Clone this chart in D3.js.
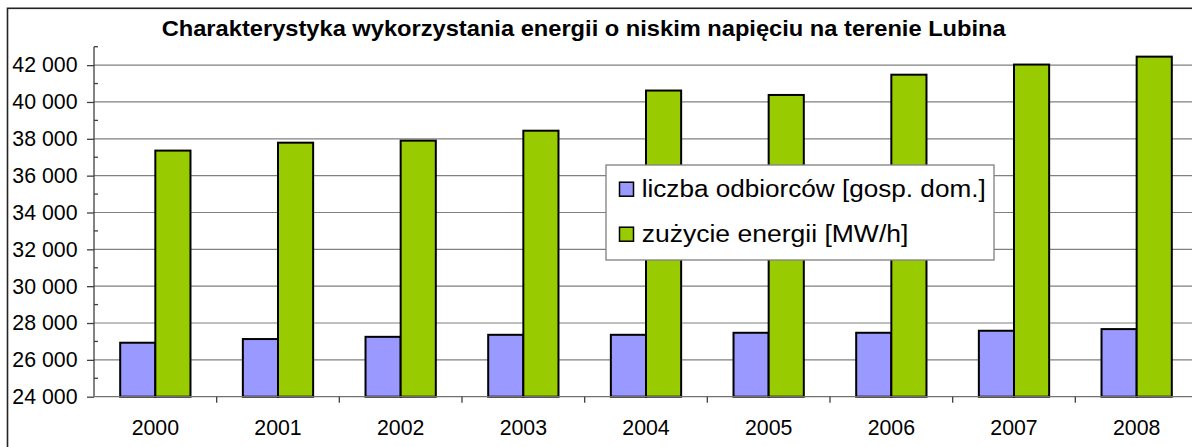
<!DOCTYPE html>
<html>
<head>
<meta charset="utf-8">
<script src="https://cdn.jsdelivr.net/npm/d3@7"></script>
<style>
  html, body { margin: 0; padding: 0; background: #fff; }
  svg { display: block; }
  text { font-family: Arial, "Liberation Sans", sans-serif; fill: #000; }
</style>
</head>
<body>
<script>
const title = "Charakterystyka wykorzystania energii o niskim napięciu na terenie Lubina";
const categories = ["2000", "2001", "2002", "2003", "2004", "2005", "2006", "2007", "2008"];
const seriesNames = ["liczba odbiorców [gosp. dom.]", "zużycie energii [MW/h]"];
const odbiorcy = [26930, 27130, 27250, 27360, 27360, 27470, 27470, 27580, 27670];
const zuzycie = [37360, 37790, 37900, 38440, 40620, 40380, 41480, 42030, 42460];
const seriesColors = ["#9999FF", "#99CC00"];
const yMajorTicks = [24000, 26000, 28000, 30000, 32000, 34000, 36000, 38000, 40000, 42000];
const yMinorTicks = [25000, 27000, 29000, 31000, 33000, 35000, 37000, 39000, 41000, 43000];
const yDomain = [24000, 43000];

const W = 1192, H = 447;
const pLeft = 94, pRight = 1198, pTop = 46.7, pBottom = 396.7;

const svg = d3.select("body").append("svg").attr("width", W).attr("height", H);
svg.append("rect").attr("width", W).attr("height", H).attr("fill", "#fff");

// outer chart border (clipped right/bottom)
svg.append("rect").attr("x", 7.5).attr("y", 8.3).attr("width", 1220).attr("height", 480)
  .attr("fill", "none").attr("stroke", "#222").attr("stroke-width", 1.6);

const fmt = d3.formatLocale({decimal: ",", thousands: " ", grouping: [3], currency: ["", ""]}).format(",d");

const y = d3.scaleLinear().domain(yDomain).range([pBottom, pTop]);
const x0 = d3.scaleBand().domain(categories).range([pLeft, pRight]).padding(0);
const bw = x0.bandwidth();
const x1 = d3.scaleBand().domain([0, 1]).range([bw * 0.2135, bw * (1 - 0.2135)]).padding(0);

// gridlines
svg.append("g").selectAll("line").data(yMajorTicks.slice(1)).join("line")
  .attr("x1", pLeft).attr("x2", pRight)
  .attr("y1", d => y(d)).attr("y2", d => y(d))
  .attr("stroke", "#808080").attr("stroke-width", 1.2);

// bars
const data = categories.map((c, i) => ({c, vals: [odbiorcy[i], zuzycie[i]]}));
const g = svg.append("g");
data.forEach(d => {
  d.vals.forEach((v, s) => {
    g.append("rect")
      .attr("x", x0(d.c) + x1(s))
      .attr("y", y(v))
      .attr("width", x1.bandwidth())
      .attr("height", y(yDomain[0]) - y(v))
      .attr("fill", seriesColors[s])
      .attr("stroke", "#000").attr("stroke-width", 2);
  });
});

// y axis
const yAxis = svg.append("g").attr("transform", `translate(${pLeft},0)`)
  .call(d3.axisLeft(y).tickValues(yMajorTicks).tickFormat(fmt).tickSize(7).tickPadding(9.5));
yAxis.select(".domain").attr("d", `M0,${pTop}V${pBottom}`).attr("stroke", "#404040").attr("stroke-width", 1.3);
yAxis.selectAll(".tick line").attr("stroke", "#404040").attr("stroke-width", 1.3);
yAxis.selectAll(".tick text").attr("font-size", 21.3).attr("font-family", "Arial, 'Liberation Sans', sans-serif").attr("fill", "#000");
svg.append("g").selectAll("line").data(yMinorTicks).join("line")
  .attr("x1", pLeft).attr("x2", pLeft + 4)
  .attr("y1", d => y(d)).attr("y2", d => y(d))
  .attr("stroke", "#404040").attr("stroke-width", 1.3);

// x axis
const xAxis = svg.append("g").attr("transform", `translate(0,${pBottom})`)
  .call(d3.axisBottom(x0).tickSize(0).tickPadding(0));
xAxis.select(".domain").attr("d", `M${pLeft},0H${pRight}`).attr("stroke", "#707070").attr("stroke-width", 1.3);
xAxis.selectAll(".tick text").attr("font-size", 21.3).attr("dy", null).attr("y", 38.5)
  .attr("font-family", "Arial, 'Liberation Sans', sans-serif").attr("fill", "#000");
svg.append("g").selectAll("line").data(categories.slice(1)).join("line")
  .attr("x1", d => x0(d)).attr("x2", d => x0(d))
  .attr("y1", pBottom).attr("y2", pBottom + 6)
  .attr("stroke", "#404040").attr("stroke-width", 1.3);

// title
svg.append("text").attr("x", 583.7).attr("y", 36).attr("text-anchor", "middle")
  .attr("font-size", 22).attr("font-weight", "bold")
  .attr("textLength", 844).attr("lengthAdjust", "spacingAndGlyphs").text(title);

// legend
const lg = svg.append("g");
lg.append("rect").attr("x", 606).attr("y", 165).attr("width", 388).attr("height", 95)
  .attr("fill", "#fff").attr("stroke", "#808080").attr("stroke-width", 1.3);
const legendRows = [196.7, 241.7];
const legendLens = [344, 266.7];
seriesNames.forEach((n, i) => {
  lg.append("rect").attr("x", 619.5).attr("y", legendRows[i] - 14.5).attr("width", 14).attr("height", 14)
    .attr("fill", seriesColors[i]).attr("stroke", "#000").attr("stroke-width", 1.5);
  lg.append("text").attr("x", 641.7).attr("y", legendRows[i]).attr("font-size", 23)
    .attr("textLength", legendLens[i]).attr("lengthAdjust", "spacingAndGlyphs").text(n);
});
</script>
</body>
</html>
